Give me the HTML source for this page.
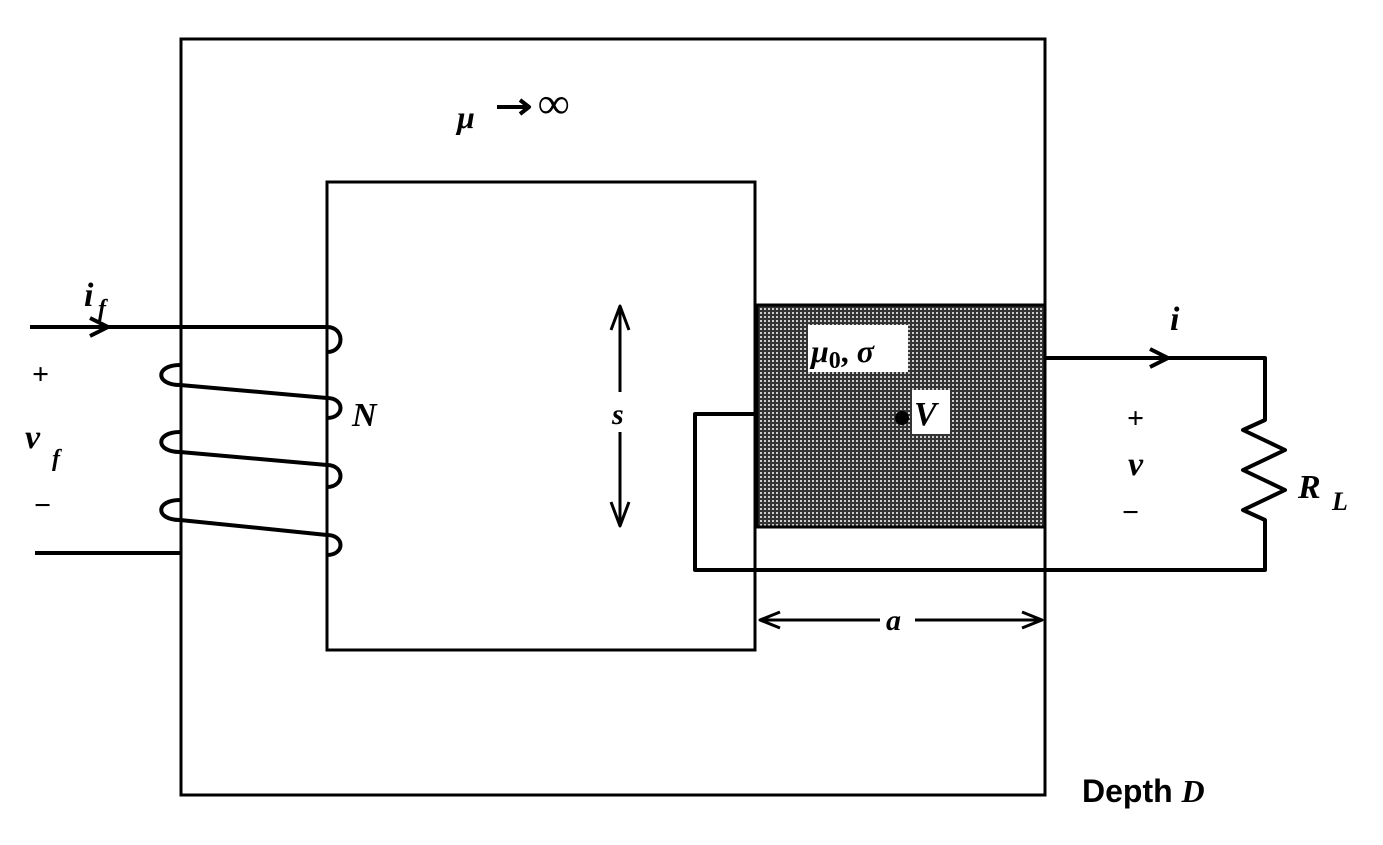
<!DOCTYPE html>
<html><head><style>body{margin:0;background:#fff}svg{display:block}</style></head><body>
<svg width="1383" height="845" viewBox="0 0 1383 845" xmlns="http://www.w3.org/2000/svg" font-family="Liberation Serif, serif">
<defs>
<pattern id="dots" width="4" height="4" patternUnits="userSpaceOnUse">
<rect width="4" height="4" fill="#333"/>
<rect x="0" y="0" width="2" height="2" fill="#ccc"/>
</pattern>
</defs>
<g fill="none" stroke="#000" stroke-width="4">
<rect x="181" y="39" width="864" height="756" stroke-width="3"/>
<rect x="327" y="182" width="428" height="468" stroke-width="3"/>
</g>
<rect x="757" y="305" width="288" height="222" fill="url(#dots)" stroke="#000" stroke-width="3"/>
<rect x="808" y="325" width="100" height="47" fill="#fff"/>
<rect x="912" y="390" width="38" height="44" fill="#fff"/>
<g fill="none" stroke="#000" stroke-width="4" stroke-linejoin="round">
<path d="M30 327 H327 C345 327 345 352 327 352"/>
<path d="M180 365 C155 365 155 385 180 385 L327 398 C345 398 345 418 327 418"/>
<path d="M180 432 C155 432 155 452 180 452 L327 465 C345 465 345 487 327 487"/>
<path d="M180 500 C155 500 155 520 180 520 L327 535 C345 535 345 555 327 555"/>
<path d="M35 553 H180"/>
<path d="M90 318 L108 327 L90 336"/>
<path d="M757 414 H695 V570 H1265 V520 L1243 510 L1285 490 L1243 470 L1285 450 L1243 430 L1265 420 V358 H1045"/>
<path d="M1150 349 L1168 358 L1150 367"/>
<path d="M620 308 V525 M611 330 L620 306 L629 330 M611 502 L620 526 L629 502" stroke-width="3"/>
<path d="M760 620 H880 M915 620 H1042 M780 612 L760 620 L780 628 M1022 612 L1042 620 L1022 628" stroke-width="3"/>
<path d="M497 107 H528 M520 100 L529 107 L520 114" stroke-width="4"/>
</g>
<rect x="605" y="392" width="30" height="40" fill="#fff"/>
<circle cx="902" cy="418" r="7" fill="#000"/>
<g font-weight="bold" font-style="italic" font-size="34" fill="#000">
<text x="457" y="128" font-size="32">μ</text>
<text x="538" y="118" font-size="44" font-style="normal">∞</text>
<text x="84" y="306">i</text><text x="98" y="316" font-size="24">f</text>
<text x="32" y="384" font-style="normal" font-size="30">+</text>
<text x="25" y="448">v</text><text x="52" y="466" font-size="24">f</text>
<text x="34" y="515" font-style="normal" font-size="30">−</text>
<text x="352" y="426">N</text>
<text x="612" y="424" font-size="30">s</text>
<text x="811" y="362" font-size="32">μ<tspan font-style="normal" font-size="24" dy="6">0</tspan><tspan dy="-6" font-style="normal">, </tspan>σ</text>
<text x="914" y="425">V</text>
<text x="1170" y="330">i</text>
<text x="1127" y="428" font-style="normal" font-size="30">+</text>
<text x="1128" y="475">v</text>
<text x="1122" y="522" font-style="normal" font-size="30">−</text>
<text x="1298" y="498">R</text><text x="1332" y="510" font-size="26">L</text>
<text x="886" y="630" font-size="30">a</text>
<text x="1082" y="802" font-family="Liberation Sans, sans-serif" font-style="normal" font-size="32">Depth <tspan font-family="Liberation Serif, serif" font-style="italic">D</tspan></text>
</g>
</svg>
</body></html>
